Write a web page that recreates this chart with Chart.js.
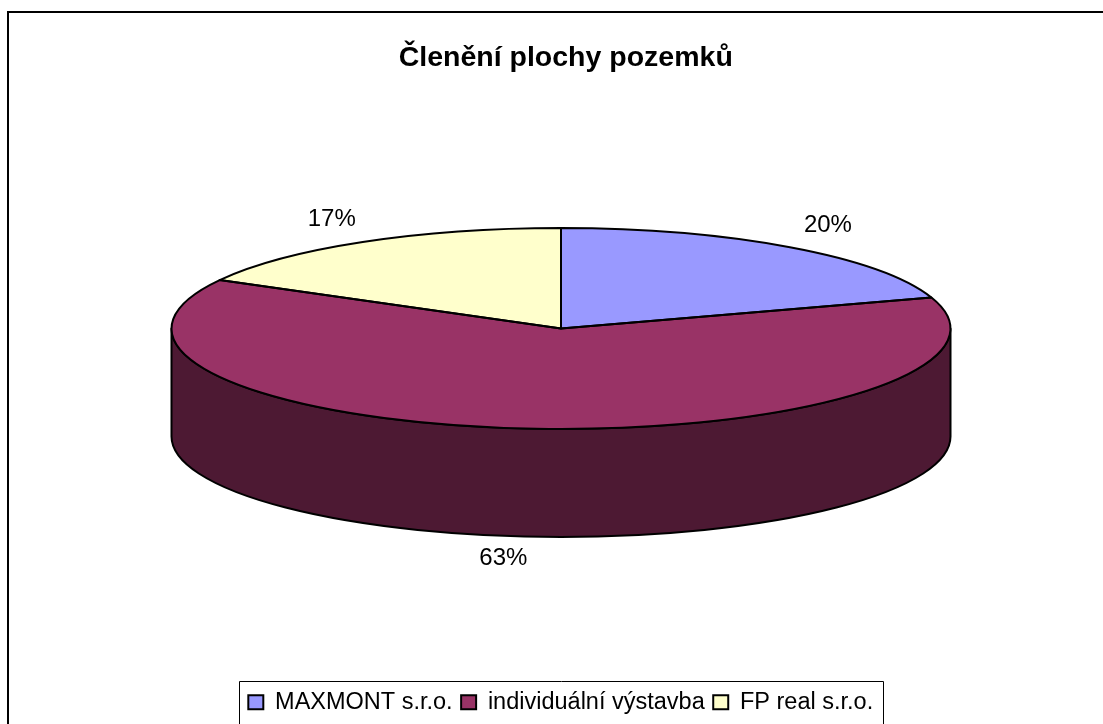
<!DOCTYPE html>
<html><head><meta charset="utf-8">
<style>html,body{margin:0;padding:0;background:#fff}canvas{display:block}</style>
<script src="https://cdn.jsdelivr.net/npm/chart.js@4"></script></head>
<body><div style="width:1103px;height:724px"><canvas id="c" width="1103" height="724"></canvas></div>
<script>
const categories = ['MAXMONT s.r.o.', 'individuální výstavba', 'FP real s.r.o.'];
const shares = [20, 63, 17];
const faceColors = ['#9999FF', '#993366', '#FFFFCC'];
const sideColors = ['#4D4D80', '#4D1933', '#808066'];
const titleText = 'Členění plochy pozemků';

const FONT = '"Liberation Sans", Arial, sans-serif';
const view = {cx: 561, cy: 328.5, rx: 389.5, ry: 100.5, depth: 108};
const labelOffsets = [[38, -22], [-21, 22], [-31, -23]];

const pie3d = {
  id: 'pie3d',
  beforeDraw(chart) {
    const c = chart.ctx;
    c.save();
    c.fillStyle = '#fff';
    c.fillRect(0, 0, chart.width, chart.height);
    c.strokeStyle = '#000';
    c.lineWidth = 2;
    c.beginPath();
    c.moveTo(8, chart.height);
    c.lineTo(8, 12);
    c.lineTo(chart.width, 12);
    c.stroke();
    c.lineWidth = 1;
    c.beginPath();
    c.moveTo(239.5, chart.height);
    c.lineTo(239.5, 681.5);
    c.lineTo(883.5, 681.5);
    c.lineTo(883.5, chart.height);
    c.stroke();
    c.restore();
  },
  beforeDatasetsDraw(chart) {
    const c = chart.ctx, v = view;
    const arcs = chart.getDatasetMeta(0).data;
    c.save();
    c.lineWidth = 2;
    c.strokeStyle = '#000';
    c.lineJoin = 'round';
    arcs.forEach((el, i) => {
      const p = el.getProps(['startAngle', 'endAngle'], true);
      const a = Math.max(p.startAngle, 0), b = Math.min(p.endAngle, Math.PI);
      if (b <= a) return;
      c.beginPath();
      c.ellipse(v.cx, v.cy, v.rx, v.ry, 0, a, b);
      c.ellipse(v.cx, v.cy + v.depth, v.rx, v.ry, 0, b, a, true);
      c.closePath();
      c.fillStyle = sideColors[i];
      c.fill();
      c.stroke();
    });
    c.restore();
    const el = arcs[0].getProps(['x', 'y', 'outerRadius'], true);
    c.save();
    c.translate(v.cx, v.cy);
    c.scale(v.rx / el.outerRadius, v.ry / el.outerRadius);
    c.translate(-el.x, -el.y);
  },
  afterDatasetsDraw(chart) {
    const c = chart.ctx, v = view;
    c.restore();
    const arcs = chart.getDatasetMeta(0).data;
    const total = shares.reduce((s, x) => s + x, 0);
    c.save();
    c.lineWidth = 2;
    c.strokeStyle = '#000';
    c.lineJoin = 'round';
    arcs.forEach(el => {
      const p = el.getProps(['startAngle', 'endAngle'], true);
      c.beginPath();
      c.moveTo(v.cx, v.cy);
      c.ellipse(v.cx, v.cy, v.rx, v.ry, 0, p.startAngle, p.endAngle);
      c.closePath();
      c.stroke();
    });
    c.fillStyle = '#000';
    c.font = '24px ' + FONT;
    c.textAlign = 'center';
    c.textBaseline = 'middle';
    arcs.forEach((el, i) => {
      const p = el.getProps(['startAngle', 'endAngle'], true);
      const m = (p.startAngle + p.endAngle) / 2;
      const x = v.cx + v.rx * Math.cos(m);
      let y = v.cy + v.ry * Math.sin(m);
      if (Math.sin(m) > 0) y += v.depth;
      c.fillText(Math.round(shares[i] / total * 100) + '%', x + labelOffsets[i][0], y + labelOffsets[i][1]);
    });
    c.restore();
  },
  afterLayout(chart) {
    chart.titleBlock.left += 5;
    chart.titleBlock.right += 5;
  }
};

new Chart(document.getElementById('c'), {
  type: 'pie',
  plugins: [pie3d],
  data: {
    labels: categories,
    datasets: [{data: shares, backgroundColor: faceColors, borderWidth: 0, clip: false}]
  },
  options: {
    responsive: false,
    animation: false,
    layout: {padding: {left: 18.5, top: 0, right: 0, bottom: 0}},
    plugins: {
      tooltip: {enabled: false},
      title: {
        display: true,
        text: titleText,
        color: '#000',
        font: {family: FONT, size: 28.5, weight: 'bold'},
        padding: {top: 41, bottom: 20}
      },
      legend: {
        position: 'bottom',
        onClick: null,
        labels: {
          color: '#000',
          font: {family: FONT, size: 23.5},
          boxWidth: 15,
          boxHeight: 14,
          padding: 8.5,
          generateLabels(chart) {
            return Chart.overrides.pie.plugins.legend.labels.generateLabels(chart).map(l => ({
              ...l, strokeStyle: '#000', lineWidth: 2
            }));
          }
        }
      }
    }
  }
});
</script></body></html>
